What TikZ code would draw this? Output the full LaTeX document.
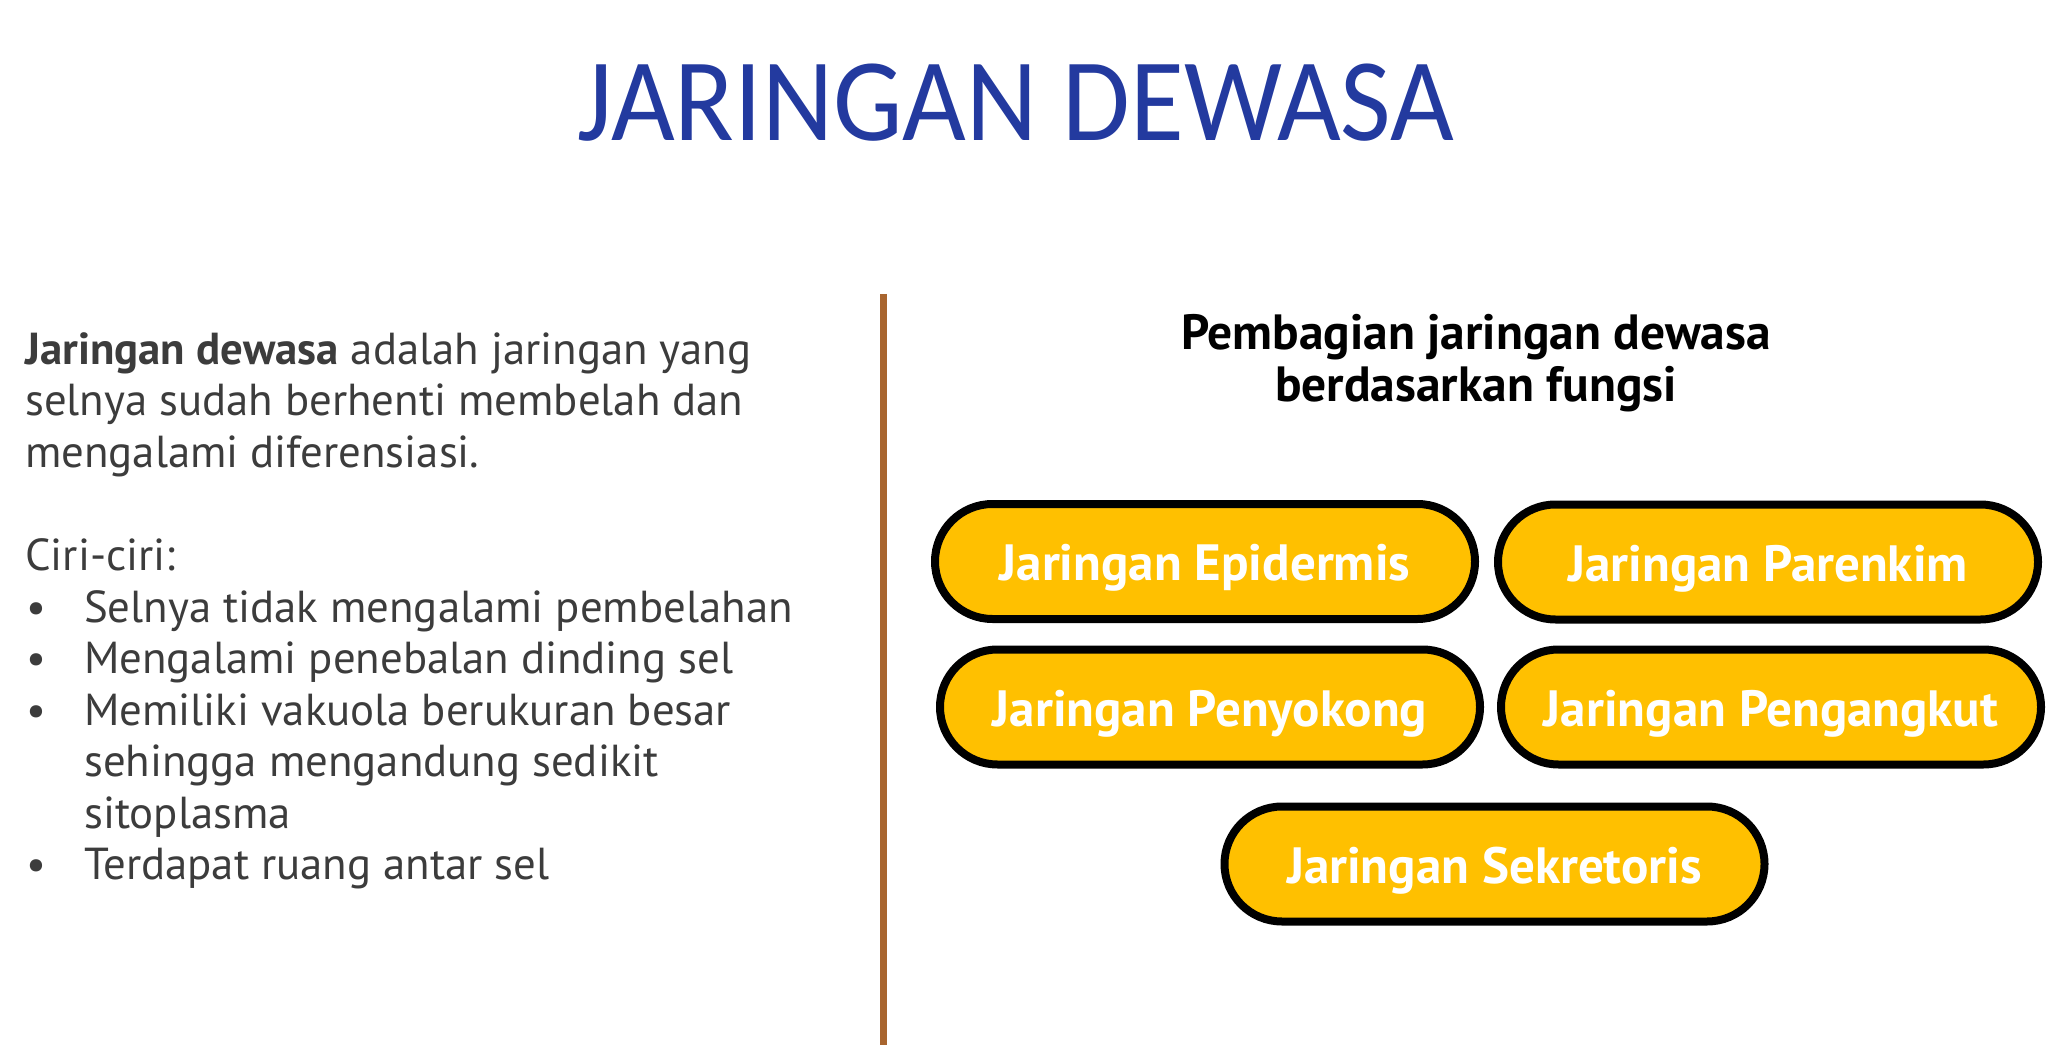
\documentclass[tikz,border=0pt]{standalone}
\usepackage{fontspec}
\usepackage{graphicx}
\setmainfont{PT Sans}
\newfontfamily\titlefont{Carlito}
\definecolor{titleblue}{HTML}{233A9F}
\definecolor{bodygray}{HTML}{3C3C3C}
\definecolor{divbrown}{HTML}{A8652F}
\definecolor{pillgold}{HTML}{FFC000}
\tikzset{
  bodytext/.style={anchor=base west, inner sep=0pt, text=bodygray, font=\fontsize{44.8}{52}\selectfont},
  bulletmark/.style={anchor=base, inner sep=0pt, text=bodygray, font=\fontsize{44}{52}\selectfont},
  headtext/.style={anchor=base, inner sep=0pt, text=black, font=\bfseries\fontsize{49.5}{56}\selectfont},
  pill/.style={draw=black, line width=8pt, fill=pillgold, rounded corners=57.5pt,
    minimum width=540pt, minimum height=115pt, inner sep=0pt},
  pilltext/.style={anchor=base, inner sep=0pt, text=white, font=\bfseries\fontsize{51}{56}\selectfont}
}
\begin{document}
\begin{tikzpicture}[x=1pt,y=-1pt]
\useasboundingbox (0,0) rectangle (2048,1064);
\fill[white] (0,0) rectangle (2048,1064);

% title
\node[anchor=base, inner sep=0pt, text=titleblue] (title) at (1016,141)
  {\titlefont\fontsize{118}{120}\selectfont\scalebox{0.933}[1]{JARINGAN DEWASA}};

% left text
\node[bodytext] (l1) at (25,365) {\textbf{Jaringan dewasa} adalah jaringan yang};
\node[bodytext] (l2) at (25,416) {selnya sudah berhenti membelah dan};
\node[bodytext] (l3) at (25,467) {mengalami diferensiasi.};
\node[bodytext] (ciri) at (25,570) {Ciri-ciri:};
\node[bulletmark] (b1m) at (36,622) {•};
\node[bodytext] (b1) at (84,622) {Selnya tidak mengalami pembelahan};
\node[bulletmark] (b2m) at (36,673) {•};
\node[bodytext] (b2) at (84,673) {Mengalami penebalan dinding sel};
\node[bulletmark] (b3m) at (36,725) {•};
\node[bodytext] (b3) at (84,725) {Memiliki vakuola berukuran besar};
\node[bodytext] (b3b) at (84,776) {sehingga mengandung sedikit};
\node[bodytext] (b3c) at (84,828) {sitoplasma};
\node[bulletmark] (b4m) at (36,879) {•};
\node[bodytext] (b4) at (84,879) {Terdapat ruang antar sel};

% divider
\coordinate (dtop) at (883,294);
\coordinate (dbot) at (883,1045);
\draw[line width=7pt, draw=divbrown] (dtop) -- (dbot);

% heading
\node[headtext] (h1) at (1476,350) {Pembagian jaringan dewasa};
\node[headtext] (h2) at (1476,402) {berdasarkan fungsi};

% pills
\node[pill] (p1) at (1205,561.5) {};
\node[pill] (p2) at (1768,562) {};
\node[pill] (p3) at (1210,707) {};
\node[pill] (p4) at (1771,707) {};
\node[pill] (p5) at (1494.5,864) {};
\node[pilltext] (t1) at ([yshift=-19pt]p1.center) {Jaringan Epidermis};
\node[pilltext] (t2) at ([yshift=-19pt]p2.center) {Jaringan Parenkim};
\node[pilltext] (t3) at ([yshift=-19pt]p3.center) {Jaringan Penyokong};
\node[pilltext] (t4) at ([yshift=-19pt]p4.center) {Jaringan Pengangkut};
\node[pilltext] (t5) at ([yshift=-19pt]p5.center) {Jaringan Sekretoris};
\end{tikzpicture}
\end{document}
